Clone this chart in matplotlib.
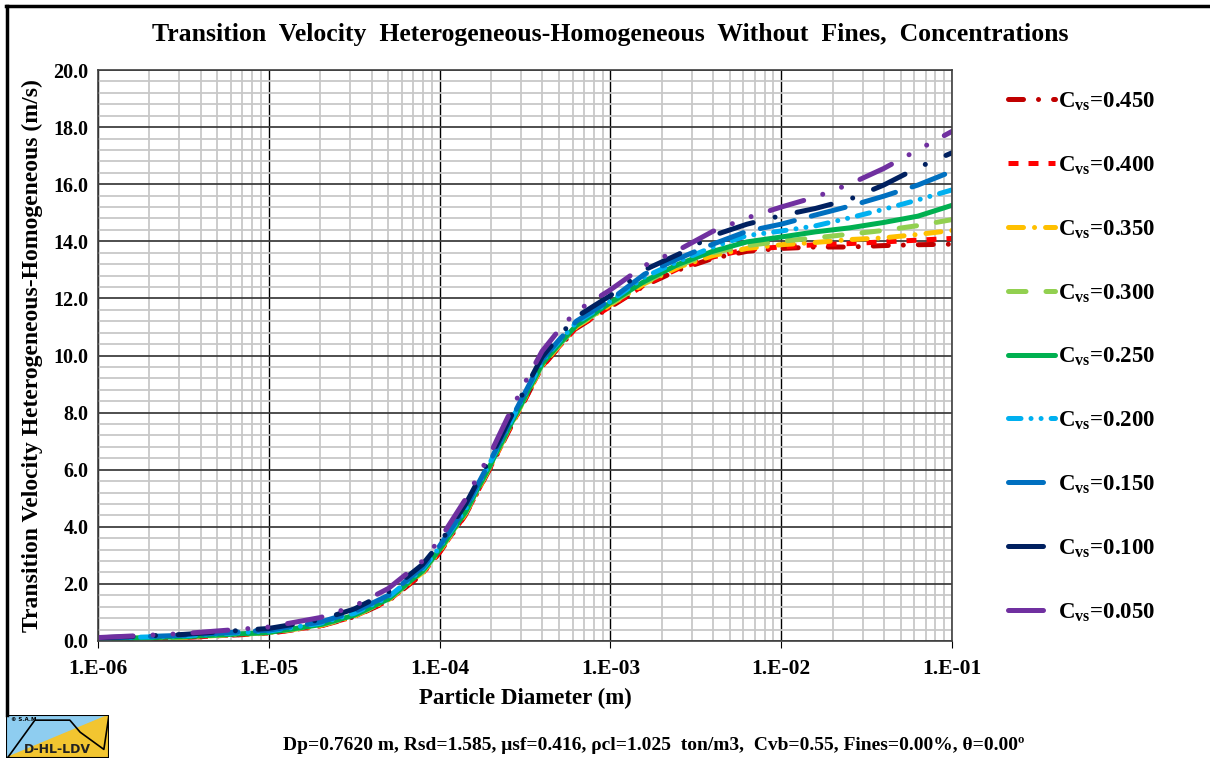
import matplotlib
matplotlib.use("Agg")
import matplotlib.pyplot as plt
from matplotlib.ticker import FixedLocator, LogLocator, MultipleLocator, NullFormatter, FormatStrFormatter
from matplotlib.patches import Polygon
import numpy as np

plt.rcParams['font.family'] = ['Liberation Serif', 'DejaVu Serif']
plt.rcParams['font.weight'] = 'bold'
plt.rcParams['mathtext.fontset'] = 'custom'
plt.rcParams['mathtext.rm'] = 'Liberation Serif:bold'
plt.rcParams['mathtext.bf'] = 'Liberation Serif:bold'

# log10 of particle diameter (m)
log_d = [-6.0, -5.5, -5.0, -4.7, -4.5, -4.3, -4.1, -4.0, -3.85, -3.7, -3.6, -3.5, -3.4,
         -3.3, -3.2, -3.0, -2.8, -2.6, -2.4, -2.2, -2.0, -1.8, -1.6, -1.4, -1.2, -1.0]

v_450 = [0.05, 0.12, 0.27, 0.52, 0.85, 1.40, 2.35, 3.10, 4.40, 6.10, 7.30, 8.45, 9.60,
         10.30, 10.95, 11.70, 12.45, 13.00, 13.40, 13.65, 13.75, 13.80, 13.80, 13.85, 13.88, 13.90]
v_400 = [0.05, 0.12, 0.28, 0.53, 0.86, 1.42, 2.37, 3.12, 4.42, 6.12, 7.32, 8.47, 9.62,
         10.32, 10.97, 11.72, 12.48, 13.05, 13.45, 13.72, 13.80, 13.88, 13.92, 13.98, 14.04, 14.10]
v_350 = [0.06, 0.13, 0.29, 0.54, 0.87, 1.44, 2.40, 3.15, 4.45, 6.15, 7.35, 8.50, 9.65,
         10.35, 11.00, 11.78, 12.52, 13.10, 13.50, 13.75, 13.88, 13.96, 14.06, 14.12, 14.24, 14.38]
v_300 = [0.06, 0.14, 0.29, 0.55, 0.88, 1.45, 2.42, 3.17, 4.47, 6.17, 7.37, 8.52, 9.67,
         10.37, 11.02, 11.80, 12.55, 13.15, 13.60, 13.85, 14.00, 14.12, 14.25, 14.38, 14.55, 14.76]
v_250 = [0.07, 0.15, 0.30, 0.57, 0.90, 1.47, 2.45, 3.20, 4.50, 6.20, 7.40, 8.55, 9.70,
         10.40, 11.05, 11.85, 12.60, 13.20, 13.65, 13.98, 14.15, 14.33, 14.47, 14.66, 14.88, 15.26]
v_200 = [0.09, 0.18, 0.35, 0.62, 0.97, 1.54, 2.52, 3.28, 4.60, 6.30, 7.50, 8.65, 9.80,
         10.50, 11.15, 11.90, 12.75, 13.30, 13.80, 14.20, 14.36, 14.54, 14.82, 15.12, 15.45, 15.80]
v_150 = [0.10, 0.20, 0.38, 0.66, 1.02, 1.60, 2.58, 3.33, 4.65, 6.35, 7.55, 8.70, 9.85,
         10.55, 11.20, 11.95, 12.85, 13.40, 13.90, 14.35, 14.60, 14.92, 15.23, 15.58, 15.97, 16.45]
v_100 = [0.11, 0.23, 0.44, 0.74, 1.12, 1.72, 2.68, 3.42, 4.77, 6.45, 7.65, 8.82, 9.95,
         10.68, 11.35, 12.10, 13.00, 13.55, 14.20, 14.60, 14.90, 15.15, 15.47, 15.97, 16.58, 17.10]
v_050 = [0.12, 0.26, 0.49, 0.82, 1.22, 1.84, 2.80, 3.55, 4.95, 6.60, 7.85, 9.05, 10.15,
         10.90, 11.55, 12.30, 13.15, 13.70, 14.35, 14.82, 15.20, 15.55, 16.00, 16.55, 17.20, 17.85]

labels = ['0.450', '0.400', '0.350', '0.300', '0.250', '0.200', '0.150', '0.100', '0.050']
series = [v_450, v_400, v_350, v_300, v_250, v_200, v_150, v_100, v_050]
colors = ['#C00000', '#FF0000', '#FFC000', '#92D050', '#00B050', '#00B0F0', '#0070C0', '#002060', '#7030A0']
dashes = [(3.0, 3.0, 0.01, 3.0), (2.0, 2.0), (3.0, 2.2, 0.01, 2.2), (3.5, 4.0), None,
          (2.5, 2.0, 0.01, 2.0, 0.01, 2.0), (7.0, 3.5), (7.0, 4.5, 0.01, 4.5),
          (7.0, 4.0, 0.01, 4.0, 0.01, 4.0)]

fig = plt.figure(figsize=(12.1, 7.58), dpi=100)
ax = fig.add_axes([98 / 1210, 117 / 758, 854 / 1210, 571 / 758])

d = 10 ** np.array(log_d)
lw = 3.6
for vals, lab, c, ds in zip(series, labels, colors, dashes):
    line, = ax.plot(d, vals, color=c, lw=lw, label=r'C$_\mathrm{vs}$=' + lab,
                    solid_capstyle='round', dash_capstyle='butt' if lab == '0.400' else 'round')
    if ds is not None:
        line.set_dashes(ds)

ax.set_xscale('log')
ax.set_xlim(1e-6, 1e-1)
ax.set_ylim(0, 20)
ax.yaxis.set_major_locator(MultipleLocator(2))
ax.yaxis.set_minor_locator(MultipleLocator(0.4))
ax.yaxis.set_major_formatter(FormatStrFormatter('%.1f'))
ax.xaxis.set_major_locator(FixedLocator([1e-6, 1e-5, 1e-4, 1e-3, 1e-2, 1e-1]))
ax.xaxis.set_minor_locator(LogLocator(base=10, subs=np.arange(2, 10), numticks=20))
ax.xaxis.set_minor_formatter(NullFormatter())
ax.set_xticklabels(['1.E-06', '1.E-05', '1.E-04', '1.E-03', '1.E-02', '1.E-01'])

ax.grid(which='minor', color='#C8C8C8', lw=1.3)
ax.grid(which='major', axis='x', color='black', lw=1.0)
ax.grid(which='major', axis='y', color='#404040', lw=1.3)
ax.set_axisbelow(True)
ax.tick_params(which='minor', length=0)
ax.tick_params(axis='y', which='major', length=0, labelsize=14.5, pad=7)
ax.tick_params(axis='x', which='major', length=5, direction='out', labelsize=15.5, pad=8)
for s in ax.spines.values():
    s.set_color('#404040')
    s.set_linewidth(1.2)

ax.set_xlabel('Particle Diameter (m)', fontsize=16.5, fontweight='bold', labelpad=6)
ax.set_ylabel('Transition Velocity Heterogeneous-Homogeneous (m/s)', fontsize=17,
              fontweight='bold', labelpad=7)

fig.text(0.504, 0.954, 'Transition  Velocity  Heterogeneous-Homogeneous  Without  Fines,  Concentrations',
         ha='center', va='center', fontsize=18.5, fontweight='bold')
fig.text(0.54, 0.017, 'Dp=0.7620 m, Rsd=1.585, \u03bcsf=0.416, \u03c1cl=1.025  ton/m3,  Cvb=0.55, Fines=0.00%, \u03b8=0.00\u00ba',
         ha='center', va='center', fontsize=14, fontweight='bold')

fig.legend(loc='center left', bbox_to_anchor=(1008 / 1210, (758 - 357) / 758),
           frameon=False, fontsize=16.5, labelspacing=1.79, handlelength=2.05,
           handletextpad=0.12, borderaxespad=0, borderpad=0)

# frame lines of the sheet
fig.add_artist(plt.Line2D([6.5 / 1210, 6.5 / 1210], [43 / 758, 752.5 / 758], color='black', lw=2.5))
fig.add_artist(plt.Line2D([5.5 / 1210, 1.0], [752.5 / 758, 752.5 / 758], color='black', lw=2.5))

# small logo bottom-left
lg = fig.add_axes([6 / 1210, 0, 103 / 1210, 43 / 758])
lg.set_xlim(0, 1)
lg.set_ylim(0, 1)
lg.axis('off')
lg.add_patch(Polygon([[0, 0], [0, 1], [1, 1]], closed=True, color='#8ECDF0'))
lg.add_patch(Polygon([[0, 0], [1, 1], [1, 0]], closed=True, color='#F2C530'))
lg.plot([0.02, 0.28, 0.62, 0.72, 0.95, 1.0], [0.02, 0.88, 0.88, 0.6, 0.2, 1.0], color='black', lw=1.2)
lg.plot([0, 0, 1, 1, 0], [0, 1, 1, 0, 0], color='black', lw=1.5)
lg.text(0.05, 0.9, '\u00a9 S.A.M.', fontsize=4, family='DejaVu Sans', fontweight='bold', va='center')
lg.text(0.5, 0.2, 'D-HL-LDV', fontsize=9, family='DejaVu Sans', fontweight='bold',
        ha='center', va='center', color='#222222')

fig.savefig('out.png', dpi=100)
